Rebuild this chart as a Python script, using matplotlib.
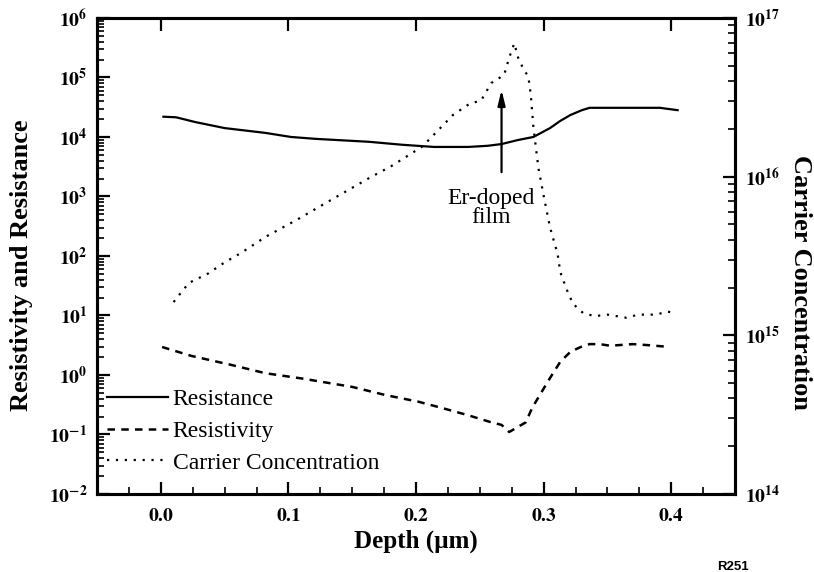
import matplotlib
matplotlib.use("Agg")
import matplotlib.pyplot as plt
from matplotlib.ticker import FuncFormatter, LogLocator, MultipleLocator, NullFormatter
import numpy as np

plt.rcParams["font.family"] = ["Liberation Serif", "DejaVu Serif"]
plt.rcParams["mathtext.fontset"] = "stix"

# =========================
# data
# =========================
depth_resistance = [0.002, 0.012, 0.027, 0.050, 0.082, 0.102, 0.121, 0.163, 0.189,
                    0.214, 0.241, 0.256, 0.267, 0.280, 0.292, 0.305, 0.313, 0.321,
                    0.330, 0.336, 0.370, 0.391, 0.405]
resistance = [21900, 21400, 17800, 14100, 11700, 10000, 9300, 8300, 7400,
              6800, 6800, 7100, 7600, 8900, 10000, 14100, 18600, 23400,
              28200, 30900, 30900, 30900, 28200]

depth_resistivity = [0.001, 0.024, 0.055, 0.082, 0.111, 0.150, 0.176, 0.202, 0.220,
                     0.241, 0.259, 0.267, 0.273, 0.286, 0.291, 0.298, 0.305, 0.313,
                     0.321, 0.329, 0.336, 0.344, 0.352, 0.370, 0.383, 0.399]
resistivity = [2.95, 2.09, 1.48, 1.07, 0.87, 0.63, 0.46, 0.355, 0.28,
               0.21, 0.16, 0.145, 0.11, 0.16, 0.28, 0.50, 0.89, 1.66,
               2.45, 2.95, 3.3, 3.3, 3.1, 3.3, 3.16, 2.95]

depth_carrier = [0.010, 0.014, 0.022, 0.037, 0.050, 0.063, 0.082, 0.107, 0.137, 0.163,
                 0.181, 0.197, 0.205, 0.216, 0.229, 0.242, 0.251, 0.259, 0.269, 0.273,
                 0.277, 0.280, 0.284, 0.288, 0.290, 0.292, 0.296, 0.300, 0.305, 0.311,
                 0.313, 0.318, 0.323, 0.331, 0.340, 0.350, 0.365, 0.374, 0.388, 0.397,
                 0.404]
carrier = [1.62e15, 1.78e15, 2.14e15, 2.45e15, 2.88e15, 3.31e15, 4.17e15, 5.37e15, 7.41e15, 9.77e15,
           1.17e16, 1.41e16, 1.55e16, 1.91e16, 2.45e16, 2.88e16, 3.02e16, 3.89e16, 4.37e16, 5.62e16,
           6.92e16, 5.62e16, 4.79e16, 4.27e16, 3.24e16, 2.04e16, 1.12e16, 7.59e15, 4.79e15, 3.24e15,
           2.51e15, 1.95e15, 1.58e15, 1.38e15, 1.32e15, 1.35e15, 1.29e15, 1.35e15, 1.35e15, 1.41e15,
           1.38e15]

series_labels = ["Resistance", "Resistivity", "Carrier Concentration"]

# =========================
# figure
# =========================
fig = plt.figure(figsize=(8.14, 5.72), dpi=100)
ax = fig.add_axes([0.1192, 0.1364, 0.7838, 0.8322])
ax2 = ax.twinx()

ax.plot(depth_resistance, resistance, color="black", lw=1.6)
ax.plot(depth_resistivity, resistivity, color="black", lw=1.8, dashes=(3, 2.5))
ax2.plot(depth_carrier, carrier, color="black", lw=1.6, linestyle=(0, (1, 3)))

ax.set_xlim(-0.05, 0.45)
ax.set_yscale("log")
ax.set_ylim(1e-2, 1e6)
ax2.set_yscale("log")
ax2.set_ylim(1e14, 1e17)


def pow10(v, p):
    return r"$\mathbf{10^{%d}}$" % round(np.log10(v))


def xfmt(v, p):
    if abs(v) < 1e-9:
        v = 0.0
    return r"$\mathbf{%.1f}$" % v


ax.xaxis.set_major_locator(MultipleLocator(0.1))
ax.xaxis.set_minor_locator(MultipleLocator(0.025))
ax.xaxis.set_major_formatter(FuncFormatter(xfmt))
for a in (ax, ax2):
    a.yaxis.set_major_locator(LogLocator(base=10, numticks=20))
    a.yaxis.set_minor_locator(LogLocator(base=10, subs=np.arange(2, 10), numticks=20))
    a.yaxis.set_minor_formatter(NullFormatter())
    a.yaxis.set_major_formatter(FuncFormatter(pow10))
    for s in a.spines.values():
        s.set_linewidth(2.2)

ax.tick_params(which="major", direction="in", length=9, width=1.6, labelsize=14,
               top=True, right=False, pad=7)
ax.tick_params(which="minor", direction="in", length=5, width=1.2, top=False, right=False)
ax.tick_params(axis="x", which="major", pad=10)
ax2.tick_params(which="major", direction="in", length=9, width=1.6, labelsize=14, pad=7)
ax2.tick_params(which="minor", direction="in", length=5, width=1.2)

# legend
handles = ax.get_lines() + ax2.get_lines()
ax.legend(handles, series_labels, loc="lower left", bbox_to_anchor=(0.015, 0.043),
          frameon=False, fontsize=17, handlelength=2.6, handletextpad=0.2,
          labelspacing=0.43, borderpad=0, borderaxespad=0)

# arrow + annotation
ax.annotate("", xy=(0.267, 6.9e4), xytext=(0.267, 2.3e3),
            arrowprops=dict(arrowstyle="-|>,head_length=0.9,head_width=0.22",
                            color="black", lw=1.6))
ax.text(0.259, 1.37e3, "Er-doped\nfilm", ha="center", va="top", fontsize=17,
        linespacing=0.85)

# axis labels
fig.text(22 / 814, 1 - 265 / 572, "Resistivity and Resistance", rotation=90,
         ha="center", va="center", fontsize=19, fontweight="bold")
fig.text(800 / 814, 1 - 282 / 572, "Carrier Concentration", rotation=270,
         ha="center", va="center", fontsize=19, fontweight="bold")
fig.text(416 / 814, 1 - 541 / 572, "Depth (µm)", ha="center", va="center",
         fontsize=18, fontweight="bold")
fig.text(733 / 814, 1 - 567 / 572, "R251", ha="center", va="center",
         fontsize=9.5, fontweight="bold", family="Liberation Sans")

fig.savefig("out.png", dpi=100)
